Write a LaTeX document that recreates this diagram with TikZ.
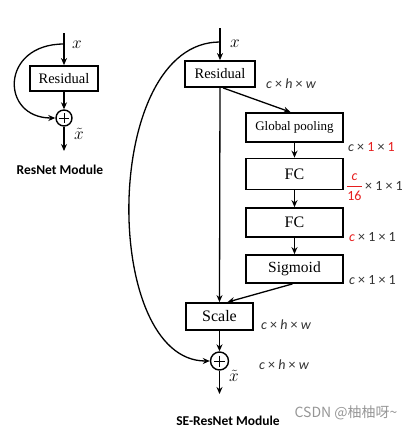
\documentclass[tikz,border=0pt]{standalone}
\usepackage{amsmath}
\usepackage{fontspec}
\setmainfont{Liberation Serif}
\newfontfamily\lblfont{Carlito}
\newfontfamily\cjkfont{Noto Sans CJK SC}
\usetikzlibrary{arrows.meta,calc}
\definecolor{redlbl}{RGB}{230,30,30}
\definecolor{dimlbl}{RGB}{50,50,50}
\definecolor{wmgray}{RGB}{150,150,150}
\begin{document}
\begin{tikzpicture}[x=1pt,y=-1pt,
  blk/.style={draw, line width=1.8pt, inner sep=0pt, align=center},
  arr/.style={line width=1.3pt, -{Stealth[length=7pt,width=6pt]}},
  plusnode/.style={draw, circle, line width=1.4pt, inner sep=0pt},
  dim/.style={font=\lblfont\fontsize{14}{16}\selectfont, text=dimlbl, inner sep=0pt, anchor=west},
  ttl/.style={font=\lblfont\bfseries\fontsize{13.5}{15}\selectfont, inner sep=0pt},
  var/.style={font=\fontsize{18}{18}\selectfont, inner sep=0pt}]
\useasboundingbox (0,0) rectangle (419,432);

% ---------- ResNet module ----------
\node[blk, minimum width=68pt, minimum height=25pt, font=\fontsize{14.5}{16}\selectfont] (lres) at (64,78.5) {Residual};
\node[plusnode, minimum size=16pt] (lplus) at (64,118) {};
\draw[line width=1pt] ($(lplus.center)+(-5,0)$) -- ($(lplus.center)+(5,0)$)
                      ($(lplus.center)+(0,-5)$) -- ($(lplus.center)+(0,5)$);
\coordinate (ltop) at (64,33);
\coordinate (lbr) at (64,44);
\coordinate (lout) at (64,151);
\draw[arr] (ltop) -- (lres.north);
\draw[arr] (lres.south) -- (lplus.north);
\draw[arr] (lplus.south) -- (lout);
\draw[arr] (lbr) .. controls (0,44) and (0,118) .. (lplus.west);
\node[var] (lx) at (77,45) {$x$};
\node[var] (lxt) at (79,134) {$\tilde{x}$};
\node[ttl] (lname) at (60,170) {ResNet Module};

% ---------- SE-ResNet module ----------
\node[blk, minimum width=70pt, minimum height=26pt, font=\fontsize{14.5}{16}\selectfont] (sres) at (220,74) {Residual};
\node[blk, minimum width=97pt, minimum height=29pt, font=\fontsize{13}{15}\selectfont] (gp) at (294.5,127.5) {Global pooling};
\node[blk, minimum width=97pt, minimum height=31pt, font=\fontsize{16}{18}\selectfont] (fc1) at (294.5,174) {FC};
\node[blk, minimum width=97pt, minimum height=29pt, font=\fontsize{16}{18}\selectfont] (fc2) at (294.5,222.5) {FC};
\node[blk, minimum width=97pt, minimum height=28pt, font=\fontsize{15.5}{17}\selectfont] (sig) at (294.5,269) {Sigmoid};
\node[blk, minimum width=67pt, minimum height=27pt, font=\fontsize{16}{18}\selectfont] (scale) at (219.5,316.5) {Scale};
\node[plusnode, minimum size=18pt] (splus) at (219.5,361) {};
\draw[line width=1pt] ($(splus.center)+(-5.5,0)$) -- ($(splus.center)+(5.5,0)$)
                      ($(splus.center)+(0,-5.5)$) -- ($(splus.center)+(0,5.5)$);
\coordinate (stop) at (220,28);
\coordinate (sbr) at (220,42);
\coordinate (sout) at (219.5,394);

\draw[arr] (stop) -- (sres.north);
\draw[arr] (sres.south) -- (scale.north);
\draw[arr] ($(sres.south)+(3,0)$) -- ($(gp.north)+(-4,0)$);
\draw[arr] (gp.south) -- (fc1.north);
\draw[arr] (fc1.south) -- (fc2.north);
\draw[arr] (fc2.south) -- (sig.north);
\draw[arr] ($(sig.south)+(-2,0)$) -- ($(scale.north)+(8,0)$);
\draw[arr] (scale.south) -- (splus.north);
\draw[arr] (splus.south) -- (sout);
\draw[arr] (sbr) .. controls (101,42) and (101,361) .. (splus.west);

\node[var] (sx) at (235,44) {$x$};
\node[var] (sxt) at (234,376) {$\tilde{x}$};

\node[dim] (d1) at (266,84) {\textit{c} × \textit{h} × \textit{w}};
\node[dim] (d2) at (348,147.5) {\textit{c} × \textcolor{redlbl}{1} × \textcolor{redlbl}{1}};
\node[dim] (d3) at (346,187) {\color{redlbl}$\genfrac{}{}{0.8pt}{0}{\mbox{\lblfont\itshape c}}{\mbox{\lblfont 16}}$\,\color{dimlbl}× 1 × 1};
\node[dim] (d4) at (349,237.5) {\textcolor{redlbl}{\textit{c}} × 1 × 1};
\node[dim] (d5) at (349,280.5) {\textit{c} × 1 × 1};
\node[dim] (d6) at (261,325) {\textit{c} × \textit{h} × \textit{w}};
\node[dim] (d7) at (259,365) {\textit{c} × \textit{h} × \textit{w}};

\node[ttl] (sname) at (228,421) {SE-ResNet Module};
\node[font=\cjkfont\fontsize{14}{16}\selectfont, text=wmgray, inner sep=0pt] (wm) at (346,413) {CSDN @柚柚呀\textasciitilde};
\end{tikzpicture}
\end{document}
